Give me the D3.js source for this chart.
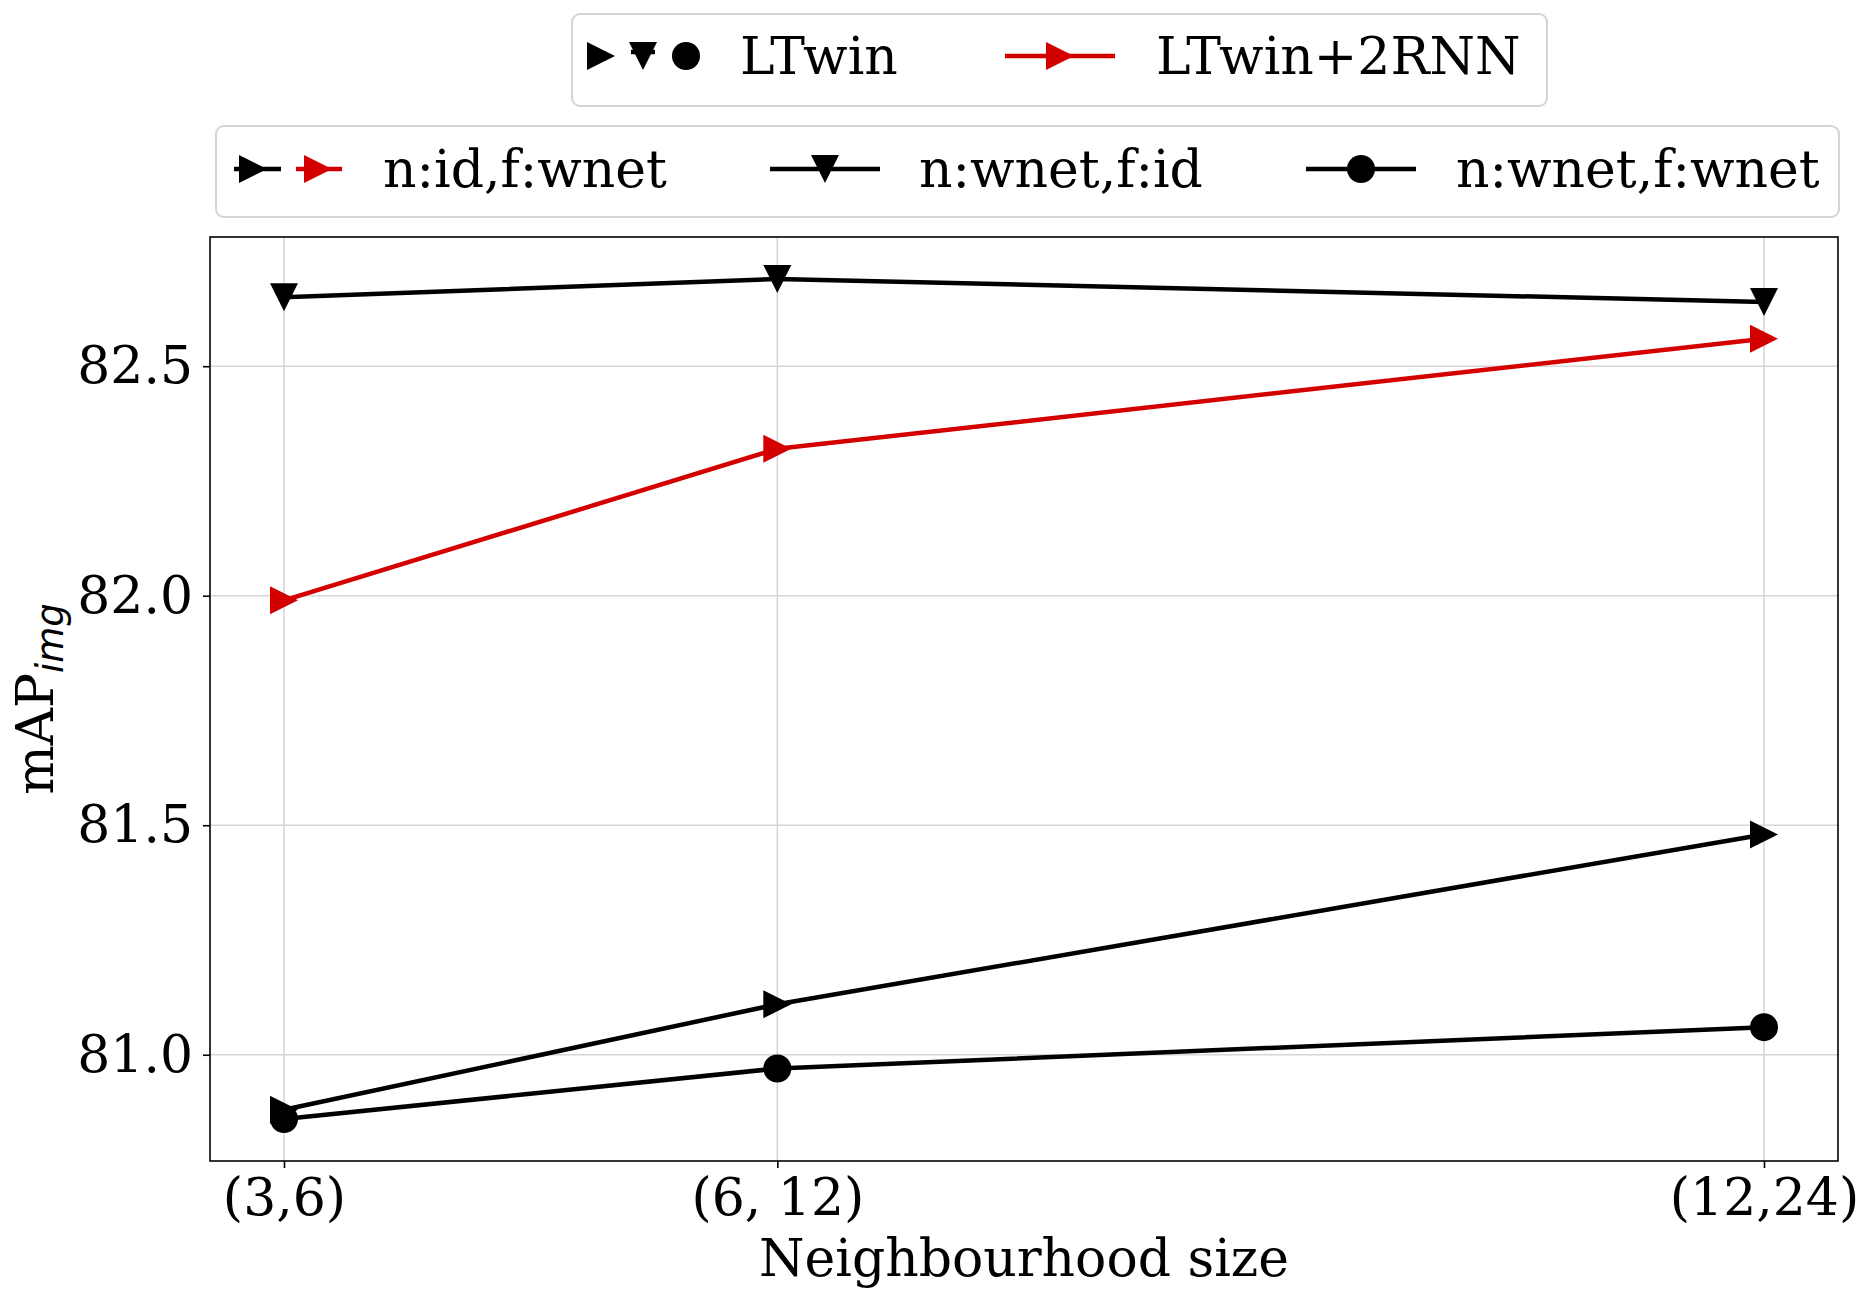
<!DOCTYPE html>
<html>
<head>
<meta charset="utf-8">
<script src="https://cdn.jsdelivr.net/npm/d3@7"></script>
<style>
  body { margin: 0; background: #fff; }
  text { font-family: "DejaVu Serif", serif; fill: #000; }
</style>
</head>
<body>
<script>
// neighbourhood sizes (first value used as x position)
var sizes = [3, 6, 12];
var sizeLabels = ["(3,6)", "(6, 12)", "(12,24)"];
var yTicks = [81.0, 81.5, 82.0, 82.5];

// mAP_img values per setting
var ltwinIdWnet   = [80.88, 81.11, 81.48];   // n:id,f:wnet
var ltwinWnetId   = [82.65, 82.69, 82.64];   // n:wnet,f:id
var ltwinWnetWnet = [80.86, 80.97, 81.06];   // n:wnet,f:wnet
var rnnIdWnet     = [81.99, 82.32, 82.56];   // LTwin+2RNN, n:id,f:wnet

var red = "#d40000";
var fontSize = 52;

var margin = {top: 237, right: 35, bottom: 140, left: 210},
    width = 1873 - margin.left - margin.right,
    height = 1301 - margin.top - margin.bottom;

var svg = d3.select("body")
            .append('svg')
            .attr("width", 1873)
            .attr("height", 1301);

var chart = svg.append("g")
               .attr("transform", "translate(" + margin.left + "," + margin.top + ")");

// marker paths centred on 0,0 (matplotlib style: square bounding box)
function marker(shape, s) {
    if (shape === "right") return "M" + (-s) + "," + (-s) + "L" + s + ",0L" + (-s) + "," + s + "Z";
    if (shape === "down") return "M" + (-s) + "," + (-s) + "L" + s + "," + (-s) + "L0," + s + "Z";
    return d3.symbol().type(d3.symbolCircle).size(Math.PI * s * s)();
}

var series = [
    {values: ltwinIdWnet,   shape: "right", color: "#000", lw: 4.5},
    {values: ltwinWnetId,   shape: "down",  color: "#000", lw: 4.5},
    {values: ltwinWnetWnet, shape: "circle", color: "#000", lw: 4.5},
    {values: rnnIdWnet,     shape: "right", color: red,    lw: 4.5}
];

// matplotlib-like 5% margins
var xPad = (d3.max(sizes) - d3.min(sizes)) * 0.05;
var x = d3.scaleLinear()
          .domain([d3.min(sizes) - xPad, d3.max(sizes) + xPad])
          .range([0, width]);

var allY = d3.merge(series.map(s => s.values));
var yPad = (d3.max(allY) - d3.min(allY)) * 0.05;
var y = d3.scaleLinear()
          .domain([d3.min(allY) - yPad, d3.max(allY) + yPad])
          .range([height, 0]);

// grid
chart.append("g").selectAll("line")
     .data(yTicks).enter()
     .append("line")
     .attr("x1", 0).attr("x2", width)
     .attr("y1", d => y(d)).attr("y2", d => y(d))
     .attr("stroke", "#d6d6d6").attr("stroke-width", 1.6);

chart.append("g").selectAll("line")
     .data(sizes).enter()
     .append("line")
     .attr("y1", 0).attr("y2", height)
     .attr("x1", d => x(d)).attr("x2", d => x(d))
     .attr("stroke", "#d6d6d6").attr("stroke-width", 1.6);

// axes
var xAxis = d3.axisBottom(x).tickValues(sizes)
              .tickFormat((d, i) => sizeLabels[i])
              .tickSize(7).tickPadding(10);
var yAxis = d3.axisLeft(y).tickValues(yTicks)
              .tickFormat(d3.format(".1f"))
              .tickSize(7).tickPadding(10);

chart.append("g")
     .attr("class", "x axis")
     .attr("transform", "translate(0," + height + ")")
     .call(xAxis);

chart.append("g")
     .attr("class", "y axis")
     .call(yAxis);

chart.selectAll(".axis .domain").remove();
chart.selectAll(".axis line").attr("stroke", "#000").attr("stroke-width", 1.6);
chart.selectAll(".axis text")
     .style("font-family", "DejaVu Serif")
     .style("font-size", fontSize + "px")
     .attr("fill", "#000");

chart.append("rect")
     .attr("width", width).attr("height", height)
     .attr("fill", "none").attr("stroke", "#000").attr("stroke-width", 1.6);

// lines + markers
var line = d3.line().x((d, i) => x(sizes[i])).y(d => y(d));

series.forEach(function(s) {
    chart.append("path")
         .datum(s.values)
         .attr("d", line)
         .attr("fill", "none")
         .attr("stroke", s.color)
         .attr("stroke-width", s.lw)
         .attr("stroke-linejoin", "round");
    chart.append("g").selectAll("path")
         .data(s.values).enter()
         .append("path")
         .attr("d", marker(s.shape, 14))
         .attr("transform", (d, i) => "translate(" + x(sizes[i]) + "," + y(d) + ")")
         .attr("fill", s.color);
});

// axis labels
svg.append("text")
   .attr("x", margin.left + width / 2)
   .attr("y", 1276)
   .attr("text-anchor", "middle")
   .style("font-size", fontSize + "px")
   .text("Neighbourhood size");

var ylab = svg.append("text")
   .attr("transform", "translate(53," + (margin.top + height / 2) + ") rotate(-90)")
   .attr("text-anchor", "middle")
   .style("font-size", fontSize + "px");
ylab.append("tspan").text("mAP");
ylab.append("tspan")
    .attr("dy", 10)
    .style("font-family", "DejaVu Sans")
    .style("font-style", "italic")
    .style("font-size", "37px")
    .text("img");

// legends
function legendBox(x0, y0, w, h) {
    svg.append("rect")
       .attr("x", x0).attr("y", y0).attr("width", w).attr("height", h)
       .attr("rx", 8)
       .attr("fill", "#fff").attr("fill-opacity", 0.8)
       .attr("stroke", "#d4d4d4").attr("stroke-width", 2);
}
function legendLine(x1, x2, yy, color, lw) {
    svg.append("line")
       .attr("x1", x1).attr("x2", x2).attr("y1", yy).attr("y2", yy)
       .attr("stroke", color).attr("stroke-width", lw);
}
function legendMarker(cx, cy, shape, color) {
    svg.append("path")
       .attr("d", marker(shape, 14))
       .attr("transform", "translate(" + cx + "," + cy + ")")
       .attr("fill", color);
}
function legendText(x0, yy, txt) {
    svg.append("text")
       .attr("x", x0).attr("y", yy)
       .style("font-size", fontSize + "px")
       .text(txt);
}

// legend 1: models
legendBox(572, 14, 975, 92);
legendMarker(601, 56, "right", "#000");
legendLine(631, 655, 52, "#000", 4.5);
legendMarker(643, 56, "down", "#000");
legendMarker(686, 56, "circle", "#000");
legendText(740, 74, "LTwin");
legendLine(1005, 1115, 56, red, 4.5);
legendMarker(1060, 56, "right", red);
legendText(1156, 74, "LTwin+2RNN");

// legend 2: settings
legendBox(216, 126, 1623, 91);
legendLine(234, 281, 169, "#000", 4.5);
legendMarker(253, 169, "right", "#000");
legendLine(296, 342, 169, red, 4.5);
legendMarker(318, 169, "right", red);
legendText(383, 187, "n:id,f:wnet");
legendLine(770, 880, 169, "#000", 4.5);
legendMarker(825, 169, "down", "#000");
legendText(919, 187, "n:wnet,f:id");
legendLine(1306, 1416, 169, "#000", 4.5);
legendMarker(1361, 169, "circle", "#000");
legendText(1456, 187, "n:wnet,f:wnet");
</script>
</body>
</html>
